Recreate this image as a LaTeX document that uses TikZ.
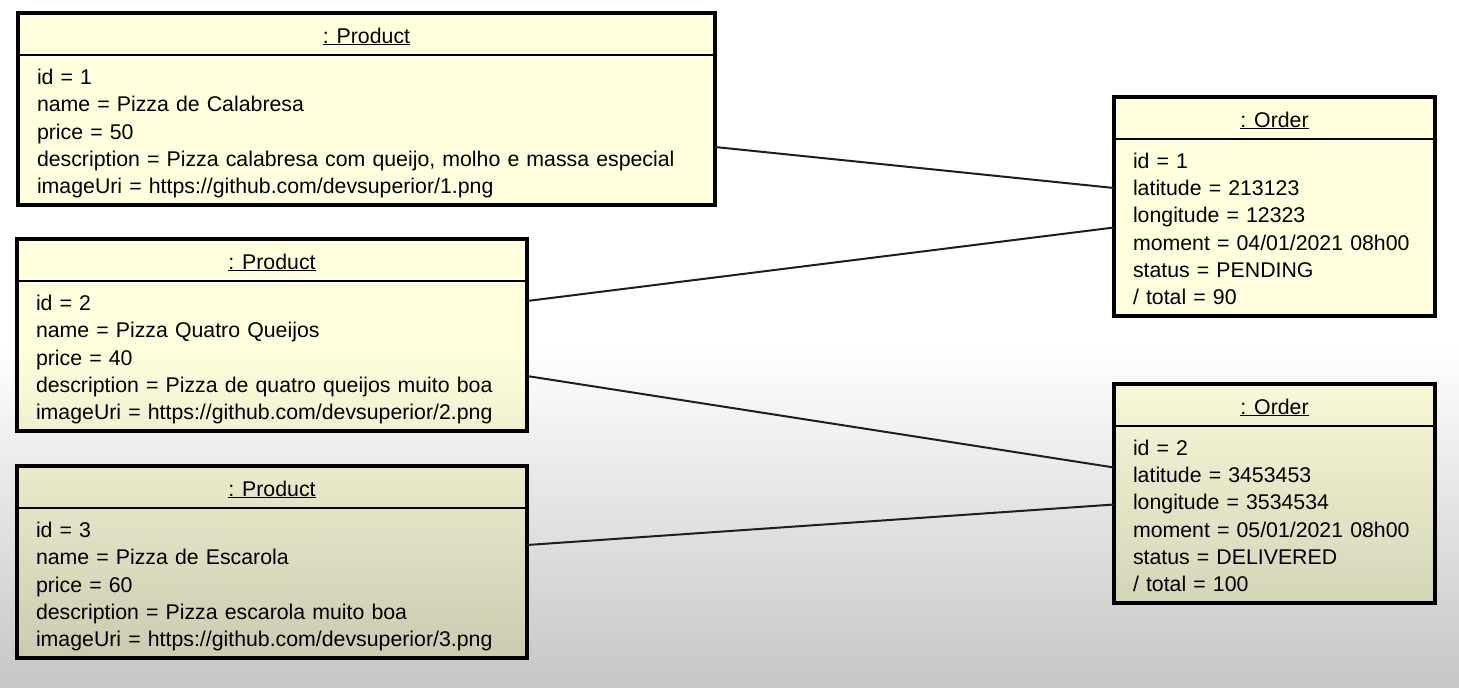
\documentclass[tikz,border=0pt]{standalone}
\usepackage{fontspec}
\setmainfont{Liberation Sans}
\usetikzlibrary{positioning}
\definecolor{objfill}{RGB}{255,255,221}
\definecolor{bgdark}{RGB}{198,198,198}
\definecolor{linkgray}{RGB}{30,30,30}
\tikzset{
  objhead/.style={draw=black, line width=1.6pt, fill=objfill, anchor=north west,
    inner sep=0pt, outer sep=0pt, minimum height=42pt, text height=20pt, text depth=2pt},
  objbody/.style={draw=black, line width=1.6pt, fill=objfill, inner xsep=19pt,
    inner ysep=0pt, outer sep=0pt, align=left,
    execute at begin node=\rule{0pt}{24pt},
    execute at end node=\rule[-6pt]{0pt}{6pt}},
  objframe/.style={draw=black, line width=3.5pt},
  link/.style={draw=linkgray, line width=2pt}
}

\begin{document}
\begin{tikzpicture}[x=1pt,y=-1pt,font=\fontsize{21.3}{27.3}\selectfont]
    \shade[top color=white, bottom color=bgdark, middle color=white] (0,0) rectangle (1459,688);
    \begin{scope}[blend mode=multiply]
        % products
        \node[objhead, minimum width=697pt] (p1h) at (18,13) {\underline{: Product}};
        \node[objbody, below=0pt of p1h, text width=659pt, minimum height=150pt] (p1)
            {id = 1\\ name = Pizza de Calabresa\\ price = 50\\
             description = Pizza calabresa com queijo, molho e massa especial\\
             imageUri = https://github.com/devsuperior/1.png};
        \node[objhead, minimum width=510pt] (p2h) at (17,239) {\underline{: Product}};
        \node[objbody, below=0pt of p2h, text width=472pt, minimum height=150pt] (p2)
            {id = 2\\ name = Pizza Quatro Queijos\\ price = 40\\
             description = Pizza de quatro queijos muito boa\\
             imageUri = https://github.com/devsuperior/2.png};
        \node[objhead, minimum width=510pt] (p3h) at (17,466) {\underline{: Product}};
        \node[objbody, below=0pt of p3h, text width=472pt, minimum height=150pt] (p3)
            {id = 3\\ name = Pizza de Escarola\\ price = 60\\
             description = Pizza escarola muito boa\\
             imageUri = https://github.com/devsuperior/3.png};
        % orders
        \node[objhead, minimum width=321pt] (o1h) at (1114,97) {\underline{: Order}};
        \node[objbody, below=0pt of o1h, text width=283pt, minimum height=177pt] (o1)
            {id = 1\\ latitude = 213123\\ longitude = 12323\\
             moment = 04/01/2021 08h00\\ status = PENDING\\ / total = 90};
        \node[objhead, minimum width=321pt] (o2h) at (1114,384) {\underline{: Order}};
        \node[objbody, below=0pt of o2h, text width=283pt, minimum height=177pt] (o2)
            {id = 2\\ latitude = 3453453\\ longitude = 3534534\\
             moment = 05/01/2021 08h00\\ status = DELIVERED\\ / total = 100};
    \end{scope}
    \foreach \obj in {p1,p2,p3,o1,o2}
        \draw[objframe] (\obj h.north west) rectangle (\obj.south east);
    \path[link]
        ([yshift=-17pt]p1.east) -- ([yshift=39.5pt]o1.west)
        ([yshift=55pt]p2.east) -- (o1.west)
        ([yshift=-20pt]p2.east) -- ([yshift=47pt]o2.west)
        ([yshift=38pt]p3.east) -- ([yshift=10pt]o2.west);
\end{tikzpicture}
\end{document}
